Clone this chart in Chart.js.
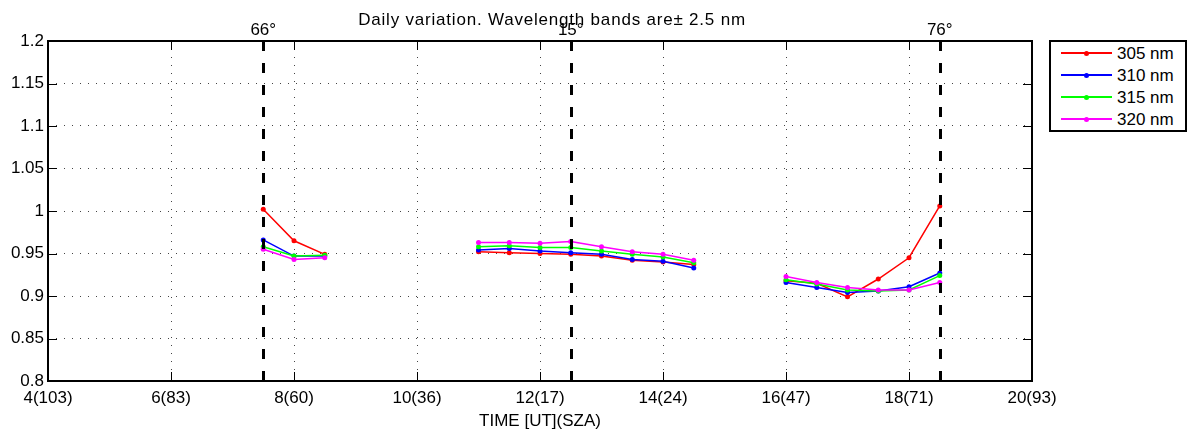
<!DOCTYPE html>
<html>
<head>
<meta charset="utf-8">
<script src="https://cdn.jsdelivr.net/npm/chart.js@4/dist/chart.umd.min.js"></script>
<style>
  body { margin: 0; background: #fff; font-family: "Liberation Sans", Arial, sans-serif; }
  #wrap { position: relative; width: 1192px; height: 432px; }
  #legend {
    position: absolute; left: 1049px; top: 40px; width: 134px; height: 88px;
    border: 2px solid #000; background: #fff; padding: 0;
  }
  .row { position: relative; height: 22px; }
  .row .ln { position: absolute; left: 10px; top: 10px; width: 51px; height: 2px; }
  .row .dot { position: absolute; left: 33px; top: 8.5px; width: 5px; height: 5px; border-radius: 50%; }
  .row .tx { position: absolute; left: 66px; top: 2px; font-size: 17px; line-height: 20px; color: #000; }
</style>
</head>
<body>
<div id="wrap">
  <canvas id="c" width="1192" height="432"></canvas>
  <div id="legend"></div>
</div>
<script>
// --- datos ---
const TIMES = [7.5, 8, 8.5, 9, 11, 11.5, 12, 12.5, 13, 13.5, 14, 14.5, 15, 16, 16.5, 17, 17.5, 18, 18.5];
const NM305 = [1.002, 0.965, 0.949, null, 0.952, 0.951, 0.950, 0.949, 0.947, 0.942, 0.940, 0.937, null, 0.918, 0.915, 0.899, 0.920, 0.945, 1.006];
const NM310 = [0.966, 0.947, 0.947, null, 0.954, 0.956, 0.953, 0.951, 0.949, 0.943, 0.941, 0.933, null, 0.916, 0.910, 0.904, 0.906, 0.911, 0.927];
const NM315 = [0.958, 0.947, 0.948, null, 0.958, 0.959, 0.957, 0.957, 0.953, 0.949, 0.946, 0.939, null, 0.919, 0.914, 0.907, 0.906, 0.907, 0.924];
const NM320 = [0.955, 0.943, 0.945, null, 0.963, 0.963, 0.962, 0.964, 0.958, 0.952, 0.949, 0.942, null, 0.923, 0.916, 0.910, 0.907, 0.907, 0.916];
const SERIES_LABELS = ['305 nm', '310 nm', '315 nm', '320 nm'];
const SERIES_COLORS = ['#ff0000', '#0000ff', '#00ff00', '#ff00ff'];
const X_TICKS = [4, 6, 8, 10, 12, 14, 16, 18, 20];
const X_TICK_LABELS = ['4(103)', '6(83)', '8(60)', '10(36)', '12(17)', '14(24)', '16(47)', '18(71)', '20(93)'];
const Y_TICKS = [0.8, 0.85, 0.9, 0.95, 1, 1.05, 1.1, 1.15, 1.2];
const MARK_TIMES = [7.5, 12.5, 18.5];
const MARK_LABELS = ['66°', '15°', '76°'];
const TITLE = 'Daily variation. Wavelength bands are\u00b1 2.5 nm';
const X_TITLE = 'TIME [UT](SZA)';

const FONT = '"Liberation Sans", Arial, sans-serif';
const allSeries = [NM305, NM310, NM315, NM320];

const datasets = allSeries.map((vals, i) => ({
  label: SERIES_LABELS[i],
  data: TIMES.map((t, k) => ({ x: t, y: vals[k] })),
  borderColor: SERIES_COLORS[i],
  backgroundColor: SERIES_COLORS[i],
  borderWidth: 1.5,
  pointRadius: 2.5,
  pointBorderWidth: 0,
  spanGaps: false,
  tension: 0,
  order: allSeries.length - i  // el último (320 nm) queda encima
}));

// Marco, ticks hacia dentro, líneas discontinuas y textos
const decoraciones = {
  id: 'decoraciones',
  afterDatasetsDraw(chart) {
    const { ctx, chartArea: a, scales: { x, y } } = chart;
    ctx.save();
    // líneas verticales discontinuas
    ctx.strokeStyle = '#000';
    ctx.lineWidth = 3;
    ctx.setLineDash([10, 12]);
    MARK_TIMES.forEach(t => {
      const px = Math.round(x.getPixelForValue(t)) + 0.5;
      ctx.beginPath();
      ctx.moveTo(px, a.bottom);
      ctx.lineTo(px, a.top);
      ctx.stroke();
    });
    ctx.setLineDash([]);

    // marco
    ctx.lineWidth = 2;
    ctx.strokeRect(a.left, a.top, a.right - a.left, a.bottom - a.top);

    // ticks
    ctx.lineWidth = 1;
    ctx.beginPath();
    X_TICKS.forEach(v => {
      const px = Math.round(x.getPixelForValue(v)) + 0.5;
      ctx.moveTo(px, a.bottom); ctx.lineTo(px, a.bottom - 9);
      ctx.moveTo(px, a.top); ctx.lineTo(px, a.top + 9);
    });
    Y_TICKS.forEach(v => {
      const py = Math.round(y.getPixelForValue(v)) + 0.5;
      ctx.moveTo(a.left, py); ctx.lineTo(a.left + 9, py);
      ctx.moveTo(a.right, py); ctx.lineTo(a.right - 9, py);
    });
    ctx.stroke();

    // textos
    ctx.fillStyle = '#000';
    ctx.textAlign = 'center';
    ctx.textBaseline = 'middle';
    ctx.font = '17px ' + FONT;
    ctx.letterSpacing = '0.8px';
    ctx.fillText(TITLE, 552, 20);
    ctx.letterSpacing = '0px';
    MARK_TIMES.forEach((t, i) => {
      ctx.fillText(MARK_LABELS[i], x.getPixelForValue(t), 30);
    });
    ctx.fillText(X_TITLE, (a.left + a.right) / 2, 421);
    ctx.restore();
  }
};

new Chart(document.getElementById('c'), {
  type: 'line',
  data: { datasets },
  options: {
    responsive: false,
    animation: false,
    layout: { padding: { top: 41, right: 160, left: 0, bottom: 0 } },
    plugins: { legend: { display: false }, tooltip: { enabled: false }, title: { display: false } },
    scales: {
      x: {
        type: 'linear', min: 4, max: 20,
        afterBuildTicks: s => { s.ticks = X_TICKS.map(v => ({ value: v })); },
        afterFit: s => { s.height = 51; },
        ticks: {
          color: '#000', font: { size: 17, family: FONT }, padding: 7, maxRotation: 0,
          callback: v => X_TICK_LABELS[X_TICKS.indexOf(v)] ?? ''
        },
        grid: { color: '#444', lineWidth: 1, drawTicks: false },
        border: { display: false, dash: [1, 7] }
      },
      y: {
        min: 0.8, max: 1.2,
        afterBuildTicks: s => { s.ticks = Y_TICKS.map(v => ({ value: v })); },
        afterFit: s => { s.width = 48; },
        ticks: {
          color: '#000', font: { size: 17, family: FONT }, padding: 4,
          callback: v => String(Math.round(v * 100) / 100)
        },
        grid: { color: '#444', lineWidth: 1, drawTicks: false },
        border: { display: false, dash: [1, 7] }
      }
    }
  },
  plugins: [decoraciones]
});

// leyenda en HTML
const leyenda = document.getElementById('legend');
SERIES_LABELS.forEach((lab, i) => {
  const row = document.createElement('div');
  row.className = 'row';
  row.innerHTML = `<span class="ln" style="background:${SERIES_COLORS[i]}"></span>` +
    `<span class="dot" style="background:${SERIES_COLORS[i]}"></span>` +
    `<span class="tx">${lab}</span>`;
  leyenda.appendChild(row);
});
</script>
</body>
</html>
